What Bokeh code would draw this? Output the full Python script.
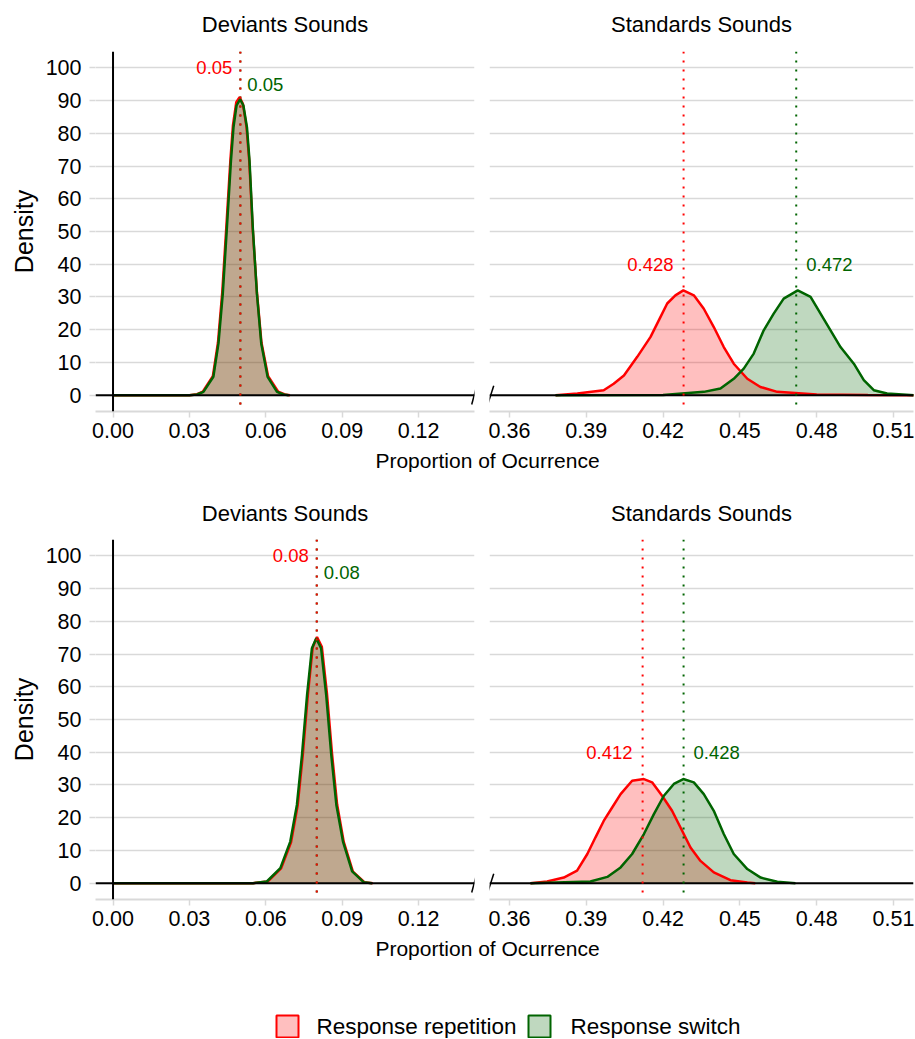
from bokeh.plotting import figure
from bokeh.models import Range1d, FixedTicker, Span, Label, Arrow, PrintfTickFormatter
from bokeh.layouts import column, row
from bokeh.embed import file_html
from bokeh.resources import INLINE

# ---------------- data ----------------
series = ["Response repetition", "Response switch"]
panel_titles = ["Deviants Sounds", "Standards Sounds"]
x_title = "Proportion of Ocurrence"
y_title = "Density"
y_ticks = [0, 10, 20, 30, 40, 50, 60, 70, 80, 90, 100]
dev_ticks = [0.00, 0.03, 0.06, 0.09, 0.12]
std_ticks = [0.36, 0.39, 0.42, 0.45, 0.48, 0.51]

# Row 1 - Deviants
r1_dev_rep_x = [0.000, 0.030, 0.0330, 0.0353, 0.0392, 0.0412, 0.0429, 0.0445, 0.0461, 0.0471, 0.0484,
                0.0497, 0.0510, 0.0524, 0.0535, 0.0548, 0.0565, 0.0583, 0.0609, 0.0648, 0.0675, 0.0695]
r1_dev_rep_y = [0.0, 0.0, 0.3, 1.1, 5.8, 16.0, 31.5, 51.5, 72.0, 82.5, 89.5,
                91.0, 89.0, 82.0, 71.5, 51.5, 31.5, 16.0, 5.8, 1.1, 0.2, 0.0]
r1_dev_sw_x = [0.000, 0.030, 0.0330, 0.0355, 0.0394, 0.0414, 0.0431, 0.0447, 0.0463, 0.0473, 0.0485,
               0.0499, 0.0512, 0.0526, 0.0536, 0.0549, 0.0565, 0.0582, 0.0607, 0.0644, 0.0670, 0.0690]
r1_dev_sw_y = [0.0, 0.0, 0.2, 1.0, 5.6, 15.8, 31.0, 51.0, 71.6, 81.8, 88.5,
               90.4, 88.5, 81.8, 71.6, 51.0, 31.0, 15.8, 5.6, 1.0, 0.2, 0.0]
# Row 1 - Standards
r1_std_rep_x = [0.378, 0.3865, 0.3968, 0.4007, 0.4047, 0.4099, 0.4151, 0.4190, 0.4216, 0.4248, 0.4279,
                0.4320, 0.4359, 0.4398, 0.4437, 0.4476, 0.4529, 0.4580, 0.4646, 0.4800, 0.5000, 0.5180]
r1_std_rep_y = [0.0, 0.5, 1.5, 3.5, 6.0, 11.7, 17.8, 23.9, 28.0, 30.5, 32.0,
                30.5, 26.4, 20.8, 14.7, 9.6, 5.0, 2.5, 1.0, 0.2, 0.05, 0.0]
r1_std_sw_x = [0.378, 0.4200, 0.4359, 0.4424, 0.4476, 0.4515, 0.4554, 0.4593, 0.4632, 0.4671, 0.4726,
               0.4776, 0.4815, 0.4854, 0.4893, 0.4945, 0.4984, 0.5023, 0.5075, 0.5180]
r1_std_sw_y = [0.0, 0.05, 1.0, 2.0, 5.0, 8.1, 12.7, 19.8, 24.9, 29.5, 32.0,
               30.0, 24.9, 19.8, 14.7, 9.6, 4.6, 1.5, 0.5, 0.0]
# Row 2 - Deviants
r2_dev_rep_x = [0.000, 0.055, 0.0607, 0.0660, 0.0699, 0.0725, 0.0745, 0.0765, 0.0784, 0.0801,
                0.0820, 0.0840, 0.0860, 0.0880, 0.0906, 0.0942, 0.0987, 0.1020]
r2_dev_rep_y = [0.0, 0.0, 0.5, 4.5, 12.5, 23.7, 39.0, 57.5, 72.0, 75.2,
                72.2, 58.0, 39.5, 24.0, 12.6, 3.5, 0.3, 0.0]
r2_dev_sw_x = [0.000, 0.055, 0.0604, 0.0657, 0.0696, 0.0722, 0.0742, 0.0762, 0.0781, 0.0798,
               0.0817, 0.0837, 0.0857, 0.0877, 0.0903, 0.0939, 0.0984, 0.1017]
r2_dev_sw_y = [0.0, 0.0, 0.5, 4.6, 12.7, 23.9, 39.2, 57.5, 71.8, 74.8,
               71.8, 57.5, 39.2, 23.9, 12.7, 3.6, 0.3, 0.0]
# Row 2 - Standards
r2_std_rep_x = [0.3682, 0.3747, 0.3812, 0.3864, 0.3904, 0.3936, 0.3968, 0.4001, 0.4034, 0.4079, 0.4125,
                0.4157, 0.4196, 0.4235, 0.4268, 0.4307, 0.4346, 0.4398, 0.4463, 0.4529, 0.4560]
r2_std_rep_y = [0.0, 0.5, 1.7, 3.8, 8.9, 14.0, 19.0, 23.1, 27.2, 31.3, 31.8,
                30.8, 26.7, 22.1, 17.0, 10.9, 6.8, 3.3, 0.9, 0.2, 0.0]
r2_std_sw_x = [0.3682, 0.3916, 0.3982, 0.4034, 0.4079, 0.4125, 0.4164, 0.4203, 0.4242, 0.4279,
               0.4320, 0.4359, 0.4398, 0.4437, 0.4476, 0.4529, 0.4581, 0.4646, 0.4717]
r2_std_sw_y = [0.0, 0.5, 1.9, 4.8, 8.9, 15.0, 21.1, 26.7, 30.3, 31.8,
               30.8, 27.2, 22.1, 15.0, 8.9, 4.3, 1.7, 0.4, 0.0]

# means: [repetition, switch]
r1_dev_means = [0.05, 0.05]
r1_std_means = [0.428, 0.472]
r2_dev_means = [0.08, 0.08]
r2_std_means = [0.412, 0.428]
r1_dev_mean_labels = ["0.05", "0.05"]
r1_std_mean_labels = ["0.428", "0.472"]
r2_dev_mean_labels = ["0.08", "0.08"]
r2_std_mean_labels = ["0.412", "0.428"]

# ---------------- style ----------------
FONT = "Liberation Sans"
COLORS = ["#FF0000", "#006400"]
GRID = "#D9D9D9"
TOTAL_W = 914
LW, RW = 480, 434
PH = 396


def panel(curves, means, mean_labels, xr, ticks, left, dev):
    if left:
        p = figure(width=LW, height=PH, min_border_left=95, min_border_right=6)
    else:
        p = figure(width=RW, height=PH, min_border_left=9, min_border_right=1)
    p.x_range = Range1d(*xr)
    p.y_range = Range1d(-5, 105)
    p.output_backend = "svg"
    p.toolbar_location = None
    p.min_border_top = 0
    p.min_border_bottom = 36
    p.outline_line_color = None
    p.background_fill_color = "white"
    p.border_fill_color = "white"
    p.xgrid.visible = False
    p.ygrid.ticker = FixedTicker(ticks=y_ticks)
    p.ygrid.grid_line_color = GRID
    p.ygrid.grid_line_width = 1.5

    xa = p.xaxis[0]
    xa.ticker = FixedTicker(ticks=ticks)
    xa.formatter = PrintfTickFormatter(format="%.2f")
    xa.axis_line_color = GRID
    xa.axis_line_width = 2
    xa.major_tick_line_color = GRID
    xa.major_tick_line_width = 1.5
    xa.major_tick_out = 6
    xa.major_tick_in = 0
    xa.minor_tick_line_color = None
    xa.major_label_text_font = FONT
    xa.major_label_text_font_size = "21.5px"
    xa.major_label_text_color = "black"
    xa.major_label_standoff = 5

    ya = p.yaxis[0]
    if left:
        ya.ticker = FixedTicker(ticks=y_ticks)
        ya.axis_line_color = None
        ya.major_tick_line_color = GRID
        ya.major_tick_line_width = 1.5
        ya.major_tick_out = 6
        ya.major_tick_in = 0
        ya.minor_tick_line_color = None
        ya.major_label_text_font = FONT
        ya.major_label_text_font_size = "21.5px"
        ya.major_label_text_color = "black"
        ya.major_label_standoff = 8
        ya.axis_label = y_title
        ya.axis_label_text_font = FONT
        ya.axis_label_text_font_size = "25px"
        ya.axis_label_text_font_style = "normal"
        ya.axis_label_text_color = "black"
        ya.axis_label_standoff = 5
    else:
        ya.visible = False

    for (x, y), c in zip(curves, COLORS):
        p.varea(x=x, y1=0, y2=y, fill_color=c, fill_alpha=0.25)
    for (x, y), c in zip(curves, COLORS):
        p.line(x=x, y=y, line_color=c, line_width=2.5)

    p.add_layout(Span(location=0, dimension="width", line_color="black", line_width=2))
    if left:
        p.add_layout(Span(location=0, dimension="height", line_color="black", line_width=2))

    # mean lines: switch first, repetition on top
    for i in [1, 0]:
        p.add_layout(Span(location=means[i], dimension="height", line_color=COLORS[i],
                          line_width=2, line_dash="2 7"))
    if dev:
        ys = [100, 95]
        offs = [-8, 7]
    else:
        ys = [40, 40]
        offs = [-10, 10]
    for i in [0, 1]:
        p.add_layout(Label(x=means[i], y=ys[i], x_offset=offs[i], text=mean_labels[i],
                           text_align="right" if i == 0 else "left", text_baseline="middle",
                           text_color=COLORS[i], text_font=FONT, text_font_size="18.5px"))
    # axis break marks
    if left:
        p.add_layout(Arrow(x_start=0.14085, y_start=-2.85, x_end=0.14281, y_end=2.85,
                           start=None, end=None, line_color="black", line_width=1.5))
    else:
        p.add_layout(Arrow(x_start=0.35150, y_start=-2.85, x_end=0.35384, y_end=2.85,
                           start=None, end=None, line_color="black", line_width=1.5))
    return p


def strip(h):
    s = figure(width=TOTAL_W, height=h, x_range=Range1d(0, TOTAL_W), y_range=Range1d(h, 0),
               output_backend="svg", toolbar_location=None, x_axis_type=None, y_axis_type=None,
               min_border=0)
    s.grid.visible = False
    s.outline_line_color = None
    s.background_fill_color = "white"
    s.border_fill_color = "white"
    return s


def add_titles(s, y):
    s.add_layout(Label(x=284.5, y=y, text=panel_titles[0], text_align="center", text_baseline="middle",
                       text_font=FONT, text_font_size="22px", text_color="black"))
    s.add_layout(Label(x=701, y=y, text=panel_titles[1], text_align="center", text_baseline="middle",
                       text_font=FONT, text_font_size="22px", text_color="black"))


def add_xtitle(s, y):
    s.add_layout(Label(x=487, y=y, text=x_title, text_align="center", text_baseline="middle",
                       text_font=FONT, text_font_size="21px", text_color="black"))


DEV_XR = (-0.00688, 0.14194)
STD_XR = (0.35219, 0.51781)

# strip0: 0 -> 51
s0 = strip(51)
add_titles(s0, 24)
s0.scatter(x=[0], y=[0], alpha=0)

# row1: 51 -> 447
f1l = panel([(r1_dev_rep_x, r1_dev_rep_y), (r1_dev_sw_x, r1_dev_sw_y)], r1_dev_means, r1_dev_mean_labels,
            DEV_XR, dev_ticks, True, True)
f1r = panel([(r1_std_rep_x, r1_std_rep_y), (r1_std_sw_x, r1_std_sw_y)], r1_std_means, r1_std_mean_labels,
            STD_XR, std_ticks, False, False)

# strip1: 447 -> 539
s1 = strip(92)
add_xtitle(s1, 13)
add_titles(s1, 66)
s1.scatter(x=[0], y=[0], alpha=0)

# row2: 539 -> 935
f2l = panel([(r2_dev_rep_x, r2_dev_rep_y), (r2_dev_sw_x, r2_dev_sw_y)], r2_dev_means, r2_dev_mean_labels,
            DEV_XR, dev_ticks, True, True)
f2r = panel([(r2_std_rep_x, r2_std_rep_y), (r2_std_sw_x, r2_std_sw_y)], r2_std_means, r2_std_mean_labels,
            STD_XR, std_ticks, False, False)

# strip2: 935 -> 1038
s2 = strip(103)
add_xtitle(s2, 13)
# legend
leg_x = [287, 539]
leg_text_x = [316, 570]
s2.rect(x=leg_x, y=[91, 91], width=22, height=22, width_units="screen", height_units="screen",
        fill_color=COLORS, fill_alpha=0.25, line_color=COLORS, line_width=2)
for i in range(2):
    s2.add_layout(Label(x=leg_text_x[i], y=91, text=series[i], text_align="left", text_baseline="middle",
                        text_font=FONT, text_font_size="22.5px", text_color="black"))

layout = column(s0, row(f1l, f1r), s1, row(f2l, f2r), s2)
open("out.html", "w").write(file_html(layout, INLINE))
